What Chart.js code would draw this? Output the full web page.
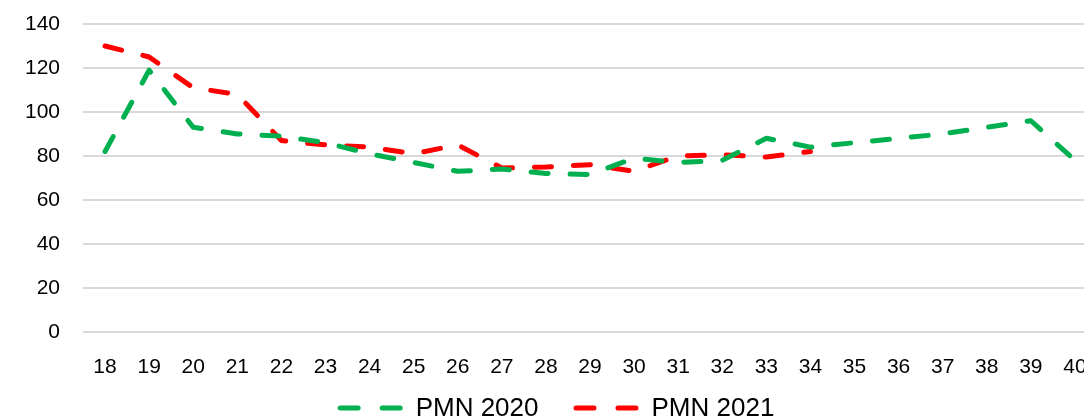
<!DOCTYPE html>
<html>
<head>
<meta charset="utf-8">
<script src="https://cdn.jsdelivr.net/npm/chart.js@4"></script>
<style>
  html, body { margin: 0; padding: 0; background: #fff; overflow: hidden; }
  #wrap { width: 1110px; height: 420px; }
</style>
</head>
<body>
<div id="wrap"><canvas id="pmnChart" width="1110" height="420"></canvas></div>
<script>
// weeks on the x axis
const weeks = ["18", "19", "20", "21", "22", "23", "24", "25", "26", "27", "28", "29",
  "30", "31", "32", "33", "34", "35", "36", "37", "38", "39", "40"];

// PMN 2020 (green)
const pmn2020 = [82, 119, 93, 90, 89, 86, 81, 77, 73, 74, 72, 71.5,
  79, 77, 78, 88, 84, 86, 88, 90, 93, 96, 78];

// PMN 2021 (red), stops at week 34
const pmn2021 = [130, 125, 111, 108, 87, 85, 84, 81, 85, 74.5, 75, 76,
  73, 80, 80.5, 79.5, 82];

const yTicks = [0, 20, 40, 60, 80, 100, 120, 140];

const fontFamily = "'Liberation Sans', Arial, sans-serif";

function lineDataset(label, data, color) {
  return {
    label: label,
    data: data,
    borderColor: color,
    backgroundColor: color,
    borderWidth: 5,
    borderDash: [17, 22],
    borderCapStyle: "round",
    borderJoinStyle: "round",
    pointRadius: 0,
    pointHoverRadius: 0,
    tension: 0,
    fill: false,
  };
}

// legend with dashed samples (the built-in one draws them solid)
const dashedLegend = {
  id: "dashedLegend",
  afterDraw(chart) {
    const c = chart.ctx;
    const sampleW = 60;
    const textGap = 13;
    const itemGap = 35;
    c.save();
    c.font = "26px " + fontFamily;
    const items = chart.data.datasets.map((ds) => ({
      ds: ds,
      w: sampleW + 5 + textGap + c.measureText(ds.label).width,
    }));
    const total = items.reduce((s, it) => s + it.w, 0) + itemGap * (items.length - 1);
    let x = 556 - total / 2;
    const y = 408;
    items.forEach((it) => {
      c.strokeStyle = it.ds.borderColor;
      c.lineWidth = it.ds.borderWidth;
      c.lineCap = "round";
      c.setLineDash([18, 24]);
      c.beginPath();
      c.moveTo(x + 2.5, y);
      c.lineTo(x + 2.5 + sampleW, y);
      c.stroke();
      c.setLineDash([]);
      c.fillStyle = "#000";
      c.textBaseline = "middle";
      c.textAlign = "left";
      c.fillText(it.ds.label, x + sampleW + 5 + textGap, y + 1);
      x += it.w + itemGap;
    });
    c.restore();
  },
};

const ctx = document.getElementById("pmnChart");

new Chart(ctx, {
  type: "line",
  data: {
    labels: weeks,
    datasets: [
      lineDataset("PMN 2020", pmn2020, "#00B050"),
      lineDataset("PMN 2021", pmn2021, "#FF0000"),
    ],
  },
  plugins: [dashedLegend],
  options: {
    responsive: false,
    animation: false,
    layout: {
      padding: { top: 24, right: 13, left: 0, bottom: 17 },
    },
    plugins: {
      tooltip: { enabled: false },
      legend: { display: false },
    },
    scales: {
      x: {
        offset: true,
        grid: { display: false, drawTicks: false },
        border: { display: false },
        ticks: {
          color: "#000",
          padding: 23,
          maxRotation: 0,
          autoSkip: false,
          font: { family: fontFamily, size: 21 },
        },
      },
      y: {
        min: 0,
        max: 140,
        afterFit: (scale) => {
          scale.width = 83;
          scale.paddingTop = 0;
          scale.paddingBottom = 0;
        },
        afterBuildTicks: (scale) => {
          scale.ticks = yTicks.map((v) => ({ value: v }));
        },
        grid: { color: "#d9d9d9", lineWidth: 2, drawTicks: false },
        border: { display: false },
        ticks: {
          color: "#000",
          padding: 23,
          font: { family: fontFamily, size: 21 },
        },
      },
    },
  },
});
</script>
</body>
</html>
